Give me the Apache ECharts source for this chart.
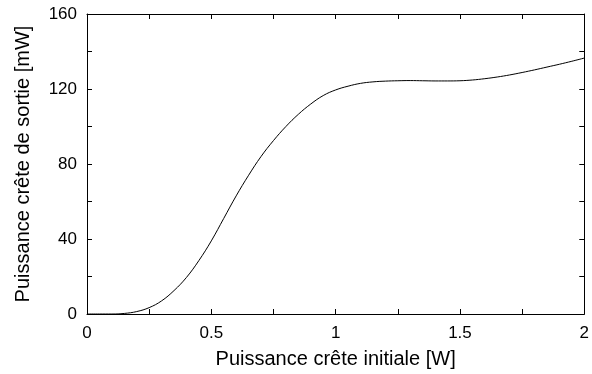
<!DOCTYPE html>
<html>
<head>
<meta charset="utf-8">
<script src="https://cdn.jsdelivr.net/npm/echarts@6/dist/echarts.min.js"></script>
<style>
html,body{margin:0;padding:0;background:#fff;}
#chart{width:592px;height:374px;}
</style>
</head>
<body>
<div id="chart"></div>
<script>
const xValues = [0,0.05,0.1,0.15,0.2,0.25,0.3,0.35,0.4,0.45,0.5,0.55,0.6,0.65,0.7,0.75,0.8,0.85,0.9,0.95,1.0,1.05,1.1,1.15,1.2,1.25,1.3,1.35,1.4,1.45,1.5,1.55,1.6,1.65,1.7,1.75,1.8,1.85,1.9,1.95,2.0];
const yValues = [0,0,0,0.3,1.3,3.4,7,12.5,19.5,28.5,39,51,63,74,84,92.5,100,106.5,112,116.5,119.5,121.5,123,123.8,124.2,124.4,124.5,124.4,124.3,124.3,124.4,124.8,125.5,126.4,127.5,128.8,130.2,131.7,133.2,134.8,136.5];
const xTitle = 'Puissance crête initiale [W]';
const yTitle = 'Puissance crête de sortie [mW]';

const points = xValues.map((x, i) => [x, yValues[i]]);
const font = 'Liberation Sans, Arial, sans-serif';
const lineStyle = {color: '#000', width: 1};

function axisBase(extra) {
  return Object.assign({
    axisLine: {show: true, onZero: false, lineStyle: lineStyle},
    axisTick: {show: true, inside: true, length: 5, lineStyle: lineStyle},
    minorTick: {show: true, splitNumber: 2, length: 5, lineStyle: lineStyle},
    splitLine: {show: false},
    minorSplitLine: {show: false}
  }, extra);
}

const chart = echarts.init(document.getElementById('chart'));
chart.setOption({
  animation: false,
  backgroundColor: '#fff',
  grid: {left: 87, right: 5, top: 14, bottom: 60, containLabel: false},
  xAxis: [
    axisBase({
      type: 'value', position: 'bottom', min: 0, max: 2, interval: 0.5,
      axisLabel: {color: '#000', fontFamily: font, fontSize: 17, margin: 11},
      name: xTitle, nameLocation: 'middle', nameGap: 35,
      nameTextStyle: {color: '#000', fontFamily: font, fontSize: 20}
    }),
    axisBase({
      type: 'value', position: 'top', min: 0, max: 2, interval: 0.5,
      axisLabel: {show: false}
    })
  ],
  yAxis: [
    axisBase({
      type: 'value', position: 'left', min: 0, max: 160, interval: 40,
      axisLabel: {color: '#000', fontFamily: font, fontSize: 17, margin: 10},
      name: yTitle, nameLocation: 'middle', nameGap: 54,
      nameTextStyle: {color: '#000', fontFamily: font, fontSize: 20}
    }),
    axisBase({
      type: 'value', position: 'right', min: 0, max: 160, interval: 40,
      axisLabel: {show: false}
    })
  ],
  series: [{
    type: 'line',
    data: points,
    xAxisIndex: 0,
    yAxisIndex: 0,
    smooth: 0.4,
    showSymbol: false,
    lineStyle: {color: '#000', width: 1}
  }]
});
</script>
</body>
</html>
